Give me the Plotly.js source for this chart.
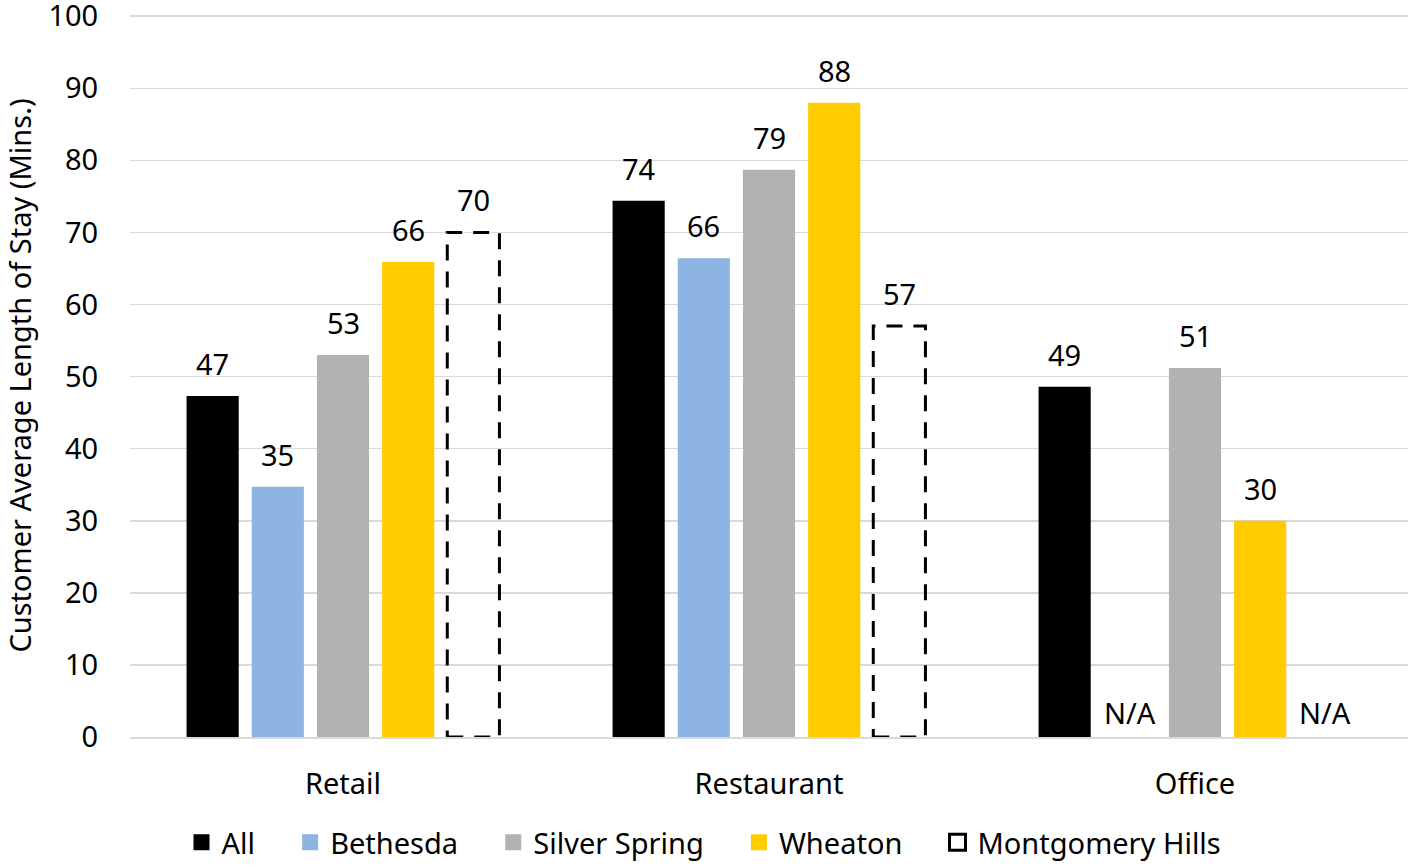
<!DOCTYPE html>
<html>
<head>
<meta charset="utf-8">
<script src="https://cdn.plot.ly/plotly-3.0.1.min.js"></script>
<style>html,body{margin:0;padding:0;background:#fff;}#chart{width:1408px;height:868px;}</style>
</head>
<body>
<div id="chart"></div>
<script>
const categories = ['Retail', 'Restaurant', 'Office'];
const seriesNames = ['All', 'Bethesda', 'Silver Spring', 'Wheaton', 'Montgomery Hills'];
const allValues = [47.3, 74.4, 48.6];
const bethesdaValues = [34.7, 66.4, null];
const silverSpringValues = [53.0, 78.7, 51.2];
const wheatonValues = [65.9, 88.0, 30.0];
const montgomeryHillsValues = [70.0, 57.0, null];
const seriesColors = ['#000000', '#8DB4E2', '#B2B2B2', '#FFCC00', 'rgba(0,0,0,0)'];
const yTicks = [0, 10, 20, 30, 40, 50, 60, 70, 80, 90, 100];

const seriesValues = [allValues, bethesdaValues, silverSpringValues, wheatonValues, montgomeryHillsValues];
const FONT = 'Noto Sans, Open Sans, DejaVu Sans, sans-serif';
const FS = 29;
const BARGAP = 0.235, GROUPGAP = 0.2, N = seriesNames.length;
const slotW = (1 - BARGAP) / N;
const barW = slotW * (1 - GROUPGAP);
function slotCenter(j) { return -(1 - BARGAP) / 2 + slotW * (j + 0.5); }
const PAD = '\u00a0\u00a0\u00a0\u00a0';

const traces = seriesValues.map((vals, j) => ({
  type: 'bar',
  name: seriesNames[j],
  x: categories,
  y: vals.map(v => v === null ? 0 : v),
  marker: {color: seriesColors[j], line: {width: 0}},
  showlegend: false,
  hoverinfo: 'skip'
}));
// legend entries (square swatches; dashed-outline series shown as open square)
seriesNames.forEach((name, j) => {
  const isOutline = j === N - 1;
  traces.push({
    type: 'scatter', mode: 'markers',
    name: name + (j < N - 1 ? PAD : ''),
    x: [null], y: [null],
    marker: isOutline
      ? {symbol: 'square-open', color: '#000', size: 18, line: {width: 3, color: '#000'}}
      : {symbol: 'square', color: seriesColors[j], size: 20, line: {width: 0}},
    showlegend: true, hoverinfo: 'skip'
  });
});

const shapes = [];
montgomeryHillsValues.forEach((v, i) => {
  if (v === null) return;
  const c = i + slotCenter(N - 1);
  shapes.push({
    type: 'rect', xref: 'x', yref: 'y',
    x0: c - barW / 2, x1: c + barW / 2, y0: 0, y1: v,
    line: {color: '#000', width: 3, dash: '16px,11px'},
    fillcolor: 'rgba(0,0,0,0)', layer: 'above'
  });
});

const annotations = [];
seriesValues.forEach((vals, j) => {
  vals.forEach((v, i) => {
    annotations.push({
      xref: 'x', yref: 'y',
      x: i + slotCenter(j), y: v === null ? 0 : v,
      text: v === null ? 'N/A' : String(Math.round(v)),
      showarrow: false, yanchor: 'bottom', yshift: v === null ? 3 : 11,
      font: {family: FONT, size: FS, color: '#000'}
    });
  });
});

const layout = {
  width: 1408, height: 868,
  margin: {l: 130, r: 0, t: 14, b: 131, pad: 0},
  paper_bgcolor: '#fff', plot_bgcolor: '#fff',
  barmode: 'group', bargap: BARGAP, bargroupgap: GROUPGAP,
  font: {family: FONT, size: FS, color: '#000'},
  xaxis: {
    type: 'category', showline: true, linecolor: '#d9d9d9', linewidth: 2,
    ticks: 'outside', ticklen: 20, tickcolor: 'rgba(0,0,0,0)',
    tickfont: {family: FONT, size: FS, color: '#000'}, showgrid: false, fixedrange: true,
    automargin: false
  },
  yaxis: {
    range: [0, 100.3], tickvals: yTicks, ticktext: yTicks.map(String),
    showgrid: true, gridcolor: '#d9d9d9', gridwidth: 1.5, zeroline: false, showline: false,
    ticks: 'outside', ticklen: 25, tickcolor: 'rgba(0,0,0,0)',
    ticklabeloverflow: 'allow',
    tickfont: {family: FONT, size: FS, color: '#000'},
    title: {text: 'Customer Average Length of Stay (Mins.)', font: {family: FONT, size: FS, color: '#000'}, standoff: 8},
    automargin: false, fixedrange: true
  },
  legend: {
    orientation: 'h', x: 0.5, xanchor: 'center', xref: 'container',
    y: -0.008, yanchor: 'bottom', yref: 'container',
    font: {family: FONT, size: FS, color: '#000'},
    traceorder: 'normal', itemwidth: 30
  },
  shapes: shapes,
  annotations: annotations
};

Plotly.newPlot('chart', traces, layout, {displayModeBar: false, staticPlot: true});
</script>
</body>
</html>
